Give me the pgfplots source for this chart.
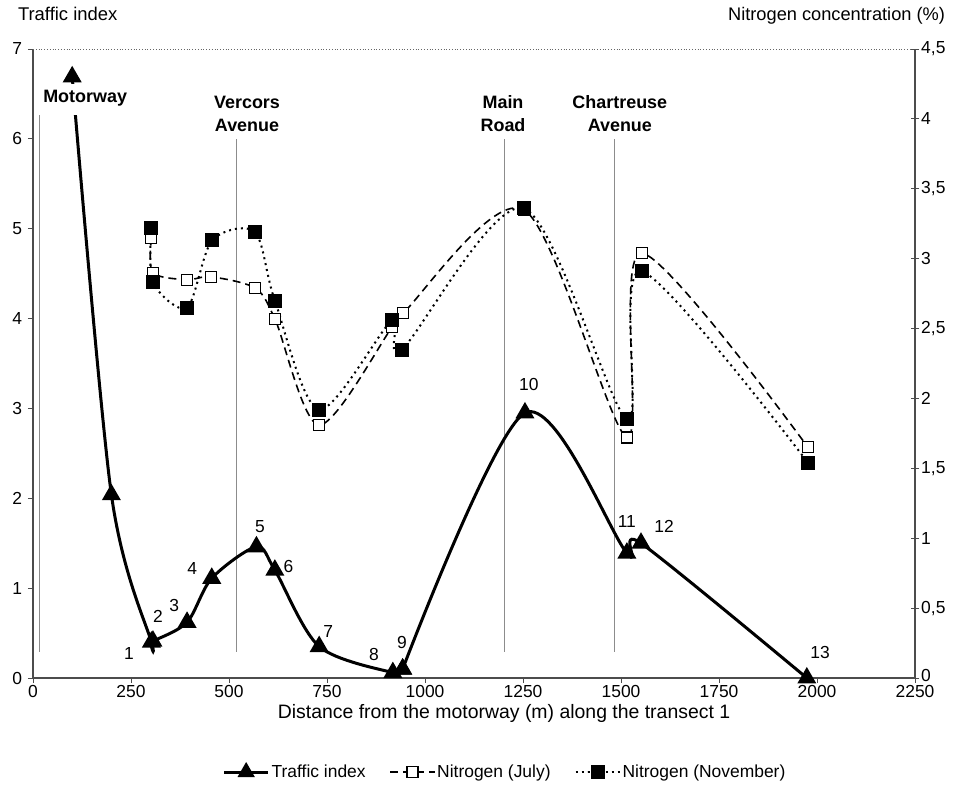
\documentclass[border=0pt]{standalone}
\usepackage{fontspec}
\setmainfont{Liberation Sans}
\usepackage{pgfplots}
\pgfplotsset{compat=1.18}
\begin{document}
\fontsize{17.5}{21}\selectfont
\begin{tikzpicture}[font=\fontsize{17.5}{21}\selectfont, x=1bp, y=1bp]
\path[use as bounding box] (-33,-109) rectangle (923,678);
\begin{axis}[
  at={(0,0)}, anchor=south west,
  scale only axis, width=882bp, height=629bp,
  xmin=0, xmax=2250, ymin=0, ymax=7,
  axis x line*=bottom, axis y line*=left,
  axis line style={-, black!70, line width=1.3bp},
  xtick={0,250,500,750,1000,1250,1500,1750,2000,2250}, ytick={0,1,2,3,4,5,6,7},
  tick align=outside, major tick length=5bp,
  tick style={black!70, line width=0.8bp},
  xticklabel style={inner sep=2.5bp},
  /pgf/number format/assume math mode=true,
  /pgf/number format/set thousands separator={},
  clip=false,
  xlabel={Distance from the motorway (m) along the transect 1},
  every axis x label/.style={at={(rel axis cs:0.5,0)}, anchor=base, yshift=-40bp, xshift=30bp, font=\fontsize{19.5}{23}\selectfont},
  ylabel={Traffic index},
  every axis y label/.style={at={(rel axis cs:0,1)}, anchor=base west, xshift=-21bp, yshift=28bp, font=\fontsize{18.5}{22}\selectfont},
]
% top border
\draw[black!60, line width=0.8bp, dotted] (rel axis cs:0,1) -- (rel axis cs:1,1);
% reference lines
\draw[black!45, line width=0.7bp] (axis cs:15,0.29) -- (axis cs:15,6.27);
\draw[black!45, line width=0.7bp] (axis cs:518,0.29) -- (axis cs:518,6.0);
\draw[black!45, line width=0.7bp] (axis cs:1202,0.29) -- (axis cs:1202,6.0);
\draw[black!45, line width=0.7bp] (axis cs:1482,0.29) -- (axis cs:1482,6.0);

\addplot[black, line width=3bp, smooth, mark=triangle*, mark size=8bp, mark options={solid}] coordinates {
(100,6.69) (200,2.04) (302,0.40) (306,0.41) (393,0.62) (456,1.11) (570,1.46) (617,1.20) (730,0.35) (918,0.06) (943,0.10)
};
\addplot[black, line width=3bp, smooth, mark=triangle*, mark size=8bp, mark options={solid}] coordinates {
(943,0.10) (1255,2.95) (1515,1.39) (1551,1.50) (1974,0)
};

\fill[white] (axis cs:80,6.27) rectangle (axis cs:135,6.61);
\node[font=\fontsize{18}{23}\selectfont\bfseries, inner sep=1bp] at (axis cs:133,6.45) {Motorway};
\node[font=\fontsize{18}{23}\selectfont\bfseries, align=center, inner sep=1bp] at (axis cs:546,6.28) {Vercors\\Avenue};
\node[font=\fontsize{18}{23}\selectfont\bfseries, align=center, inner sep=1bp] at (axis cs:1199,6.28) {Main\\Road};
\node[font=\fontsize{18}{23}\selectfont\bfseries, align=center, inner sep=1bp] at (axis cs:1497,6.28) {Chartreuse\\Avenue};

\node at (axis cs:245,0.27) {1};
\node at (axis cs:319,0.68) {2};
\node at (axis cs:360,0.81) {3};
\node at (axis cs:406,1.22) {4};
\node at (axis cs:579,1.68) {5};
\node at (axis cs:652,1.24) {6};
\node at (axis cs:753,0.52) {7};
\node at (axis cs:870,0.26) {8};
\node at (axis cs:941,0.39) {9};
\node at (axis cs:1265,3.27) {10};
\node at (axis cs:1515,1.74) {11};
\node at (axis cs:1610,1.69) {12};
\node at (axis cs:2008,0.28) {13};
\end{axis}

\begin{axis}[
  at={(0,0)}, anchor=south west,
  scale only axis, width=882bp, height=629bp,
  xmin=0, xmax=2250, ymin=0, ymax=4.5,
  axis x line=none, axis y line*=right,
  axis line style={-, black!70, line width=1.3bp},
  ytick={0,0.5,1,1.5,2,2.5,3,3.5,4,4.5},
  yticklabels={\raisebox{5bp}{0},{0,5},1,{1,5},2,{2,5},3,{3,5},4,{4,5}},
  tick align=center, major tick length=8bp,
  tick style={black!70, line width=0.8bp},
  yticklabel style={inner sep=2bp},
  clip=false,
  ylabel={Nitrogen concentration (\%)},
  every axis y label/.style={at={(rel axis cs:1,1)}, anchor=base east, xshift=36bp, yshift=28bp, font=\fontsize{18.3}{22}\selectfont},
  legend columns=3,
  legend style={draw=none, fill=none, at={(rel axis cs:0.5,0)}, anchor=center, yshift=-94bp, xshift=31bp,
    /tikz/every even column/.append style={column sep=22bp}},
  legend image code/.code={\draw[mark repeat=2,mark phase=2,#1] plot coordinates {(0bp,0bp) (22bp,0bp) (44bp,0bp)};},
]
\addlegendimage{black, line width=3bp, mark=triangle*, mark size=7bp, mark options={solid}}
\addlegendentry{Traffic index}

\addplot[black, line width=1.6bp, dash pattern=on 8bp off 5bp, smooth, mark=square*, mark size=5.5bp, mark options={solid, fill=white, line width=1.2bp}] coordinates {
(302,3.15) (306,2.90) (393,2.85) (454,2.87) (566,2.79) (617,2.57) (730,1.81) (916,2.51) (944,2.61) (1252,3.35) (1515,1.72) (1553,3.04) (1977,1.65)
};
\addlegendentry{Nitrogen (July)}

\addplot[black, line width=2bp, dash pattern=on 2bp off 4bp, smooth, mark=square*, mark size=6bp, mark options={solid, fill=black}] coordinates {
(302,3.22) (306,2.83) (393,2.65) (457,3.13) (566,3.19) (617,2.70) (730,1.92) (916,2.56) (941,2.35) (1252,3.36) (1515,1.85) (1553,2.91) (1977,1.54)
};
\addlegendentry{Nitrogen (November)}
\end{axis}
\end{tikzpicture}
\end{document}
